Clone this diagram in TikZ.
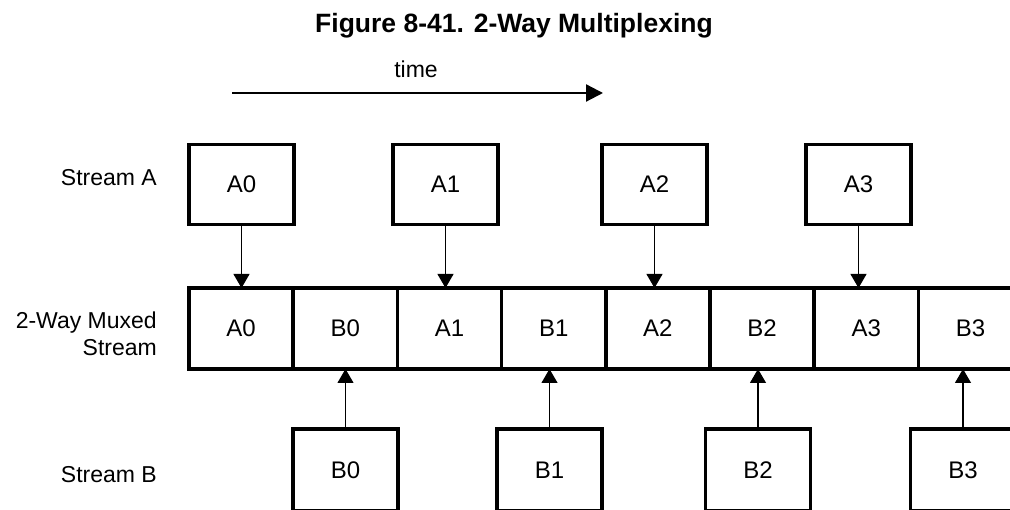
\documentclass[tikz,border=0pt]{standalone}
\usepackage{fontspec}
\setmainfont{Liberation Sans}
\usetikzlibrary{arrows.meta, positioning}

\begin{document}
\begin{tikzpicture}[
  x=1pt, y=1pt,
  pkt/.style={rectangle, draw, line width=3.5pt, outer sep=0pt,
              minimum width=105pt, minimum height=80pt,
              font=\fontsize{24}{28}\selectfont},
  cell/.style={pkt, minimum width=104.2pt, minimum height=81pt},
  lbl/.style={font=\fontsize{23}{27}\selectfont, align=right,
              anchor=east, inner sep=0pt},
  arr/.style={-{Triangle[length=14pt, width=16pt]}, line width=1.1pt},
]
\useasboundingbox (0,0) rectangle (1010,510);

% === Title ===
\node[font=\fontsize{26.5}{30}\selectfont\bfseries] (title) at (514, 484)
  {Figure 8-41. 2-Way Multiplexing};

% === Time axis ===
\node[font=\fontsize{23}{27}\selectfont] (time) at (416, 441) {time};
\coordinate (t0) at (232, 417);
\coordinate (t1) at (603, 417);
\draw[-{Triangle[length=17pt, width=17pt]}, line width=2.2pt] (t0) -- (t1);

% === Row labels ===
\node[lbl] (lblA) at (157, 332) {Stream A};
\node[lbl] (lblM) at (157, 176) {2-Way Muxed\\Stream};
\node[lbl] (lblB) at (157, 35)  {Stream B};

% === Stream A packets ===
\node[pkt] (A0) at (241.5, 325.5) {A0};
\node[pkt] (A1) at (445.5, 325.5) {A1};
\node[pkt] (A2) at (654.5, 325.5) {A2};
\node[pkt] (A3) at (858.5, 325.5) {A3};

% === Muxed stream, cells of width 104.2 from x = 189 ===
\node[cell] (MA0) at (241.1, 181.5) {A0};
\node[cell] (MB0) at (345.3, 181.5) {B0};
\node[cell] (MA1) at (449.5, 181.5) {A1};
\node[cell] (MB1) at (553.7, 181.5) {B1};
\node[cell] (MA2) at (657.9, 181.5) {A2};
\node[cell] (MB2) at (762.1, 181.5) {B2};
\node[cell] (MA3) at (866.3, 181.5) {A3};
\node[cell] (MB3) at (970.5, 181.5) {B3};

% === Stream B packets (cut by the lower edge) ===
\node[pkt, minimum height=82pt] (B0) at (345.5, 40) {B0};
\node[pkt, minimum height=82pt] (B1) at (549.5, 40) {B1};
\node[pkt, minimum height=82pt] (B2) at (758,   40) {B2};
\node[pkt, minimum height=82pt] (B3) at (963,   40) {B3};

% === Arrows into the muxed stream ===
\draw[arr] (A0.south) -- (A0.south |- MA0.north);
\draw[arr] (A1.south) -- (A1.south |- MA1.north);
\draw[arr] (A2.south) -- (A2.south |- MA2.north);
\draw[arr] (A3.south) -- (A3.south |- MA3.north);

\draw[arr] (B0.north) -- (B0.north |- MB0.south);
\draw[arr] (B1.north) -- (B1.north |- MB1.south);
\draw[arr] (B2.north) -- (B2.north |- MB2.south);
\draw[arr] (B3.north) -- (B3.north |- MB3.south);

\end{tikzpicture}
\end{document}
